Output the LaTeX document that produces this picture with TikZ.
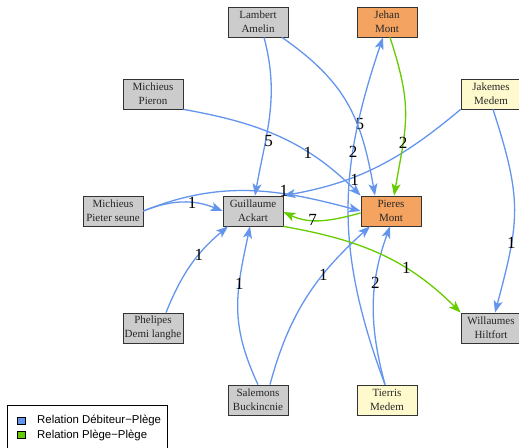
\documentclass[tikz,border=0pt]{standalone}
\usepackage{fontspec}
\setmainfont{Liberation Serif}
\newfontfamily\legendfont{Liberation Sans}
\usetikzlibrary{arrows.meta}
\definecolor{debtblue}{RGB}{100,149,237}
\definecolor{pledgegreen}{RGB}{102,204,0}
\definecolor{boxgray}{RGB}{204,204,204}
\definecolor{boxorange}{RGB}{244,164,96}
\definecolor{boxyellow}{RGB}{255,250,205}
\begin{document}
\begin{tikzpicture}[x=1pt, y=1pt,
    person/.style={draw=black!80, line width=0.8pt, minimum width=60pt, minimum height=30pt,
                   inner sep=1pt, align=center, text=black!85, font=\fontsize{11}{14}\selectfont},
    debt/.style={draw=debtblue, line width=1.3pt, -{Stealth[length=12pt, width=9pt, inset=3pt]}},
    pledge/.style={debt, draw=pledgegreen},
    count/.style={font=\fontsize{17}{17}\selectfont, inner sep=0pt, text=black}]
    \useasboundingbox (0,-447) rectangle (519,0);

    % People
    \node[person, fill=boxgray]   (lam) at (258,-22)  {Lambert\\Amelin};
    \node[person, fill=boxorange] (jeh) at (387,-22)  {Jehan\\Mont};
    \node[person, fill=boxgray]   (pro) at (153,-94)  {Michieus\\Pieron};
    \node[person, fill=boxyellow] (jak) at (491,-94)  {Jakemes\\Medem};
    \node[person, fill=boxgray]   (pts) at (113,-211) {Michieus\\Pieter seune};
    \node[person, fill=boxgray]   (gui) at (253,-211) {Guillaume\\Ackart};
    \node[person, fill=boxorange] (pie) at (391,-211) {Pieres\\Mont};
    \node[person, fill=boxgray]   (phe) at (153,-328) {Phelipes\\Demi langhe};
    \node[person, fill=boxgray]   (wil) at (491,-328) {Willaumes\\Hiltfort};
    \node[person, fill=boxgray]   (sal) at (258,-400) {Salemons\\Buckincnie};
    \node[person, fill=boxyellow] (tie) at (387,-400) {Tierris\\Medem};

    % Debtor -- pledge
    \draw[debt] ([xshift=6pt]lam.south) to[out=-75, in=80] node[count, pos=0.67, xshift=3pt] {5} ([xshift=2pt]gui.north);
    \draw[debt] ([xshift=24pt]lam.south) to[out=-35, in=100, looseness=1.1] node[count, pos=0.63, xshift=3pt] {5} ([xshift=-16pt]pie.north);
    \draw[debt] ([xshift=-2pt]tie.north) .. controls (335,-250) and (338,-170) .. node[count, pos=0.68] {2} ([xshift=-4pt]jeh.south);
    \draw[debt] (pro.south east) to[out=-10, in=135] node[count, pos=0.67] {1} (pie.north west);
    \draw[debt] (jak.south west) to[out=220, in=10] node[count, pos=0.64, yshift=-3pt] {1} (gui.north east);
    \draw[debt] ([xshift=2pt]jak.south) to[out=-72, in=75, looseness=1.2] node[count, pos=0.69] {1} ([xshift=4pt]wil.north);
    \draw[debt] (pts.east) to[bend left=22] node[count, pos=0.62] {1} (gui.west);
    \draw[debt] (pts.east) to[out=22, in=165] node[count, pos=0.66, yshift=3pt] {1} (pie.west);
    \draw[debt] (sal.north) to[out=115, in=-102, looseness=1.1] node[count, pos=0.66] {1} ([xshift=-3pt]gui.south);
    \draw[debt] ([xshift=12pt]sal.north) to[out=75, in=-138] node[count, pos=0.66] {1} ([xshift=-21pt]pie.south);
    \draw[debt] ([xshift=13pt]phe.north) to[out=68, in=-140] node[count, pos=0.63] {1} ([xshift=-25pt]gui.south);
    \draw[debt] ([xshift=-2pt]tie.north) to[out=105, in=-110] node[count, pos=0.65] {2} ([xshift=-1pt]pie.south);

    % Pledge -- pledge
    \draw[pledge] ([xshift=3pt]jeh.south) to[out=-72, in=80, looseness=1.2] node[count, pos=0.7] {2} ([xshift=3pt]pie.north);
    \draw[pledge] ([yshift=-2pt]pie.west) to[out=195, in=-25] node[count, pos=0.62] {7} ([yshift=-1pt]gui.east);
    \draw[pledge] (gui.south east) to[out=-10, in=135] node[count, pos=0.66] {1} (wil.north west);

    % Legend
    \draw[line width=0.8pt] (7,-405) rectangle (167,-452);
    \node[draw=black, line width=0.6pt, fill=debtblue, minimum width=8pt, minimum height=7pt, inner sep=0pt] (keydebt) at (21,-420.5) {};
    \node[draw=black, line width=0.6pt, fill=pledgegreen, minimum width=8pt, minimum height=7pt, inner sep=0pt] (keypledge) at (21,-435) {};
    \node[anchor=west, inner sep=0pt, font=\legendfont\fontsize{11.4}{13}\selectfont] (txtdebt) at (37,-420.5) {Relation Débiteur−Plège};
    \node[anchor=west, inner sep=0pt, font=\legendfont\fontsize{11.4}{13}\selectfont] (txtpledge) at (37,-435) {Relation Plège−Plège};
\end{tikzpicture}
\end{document}
